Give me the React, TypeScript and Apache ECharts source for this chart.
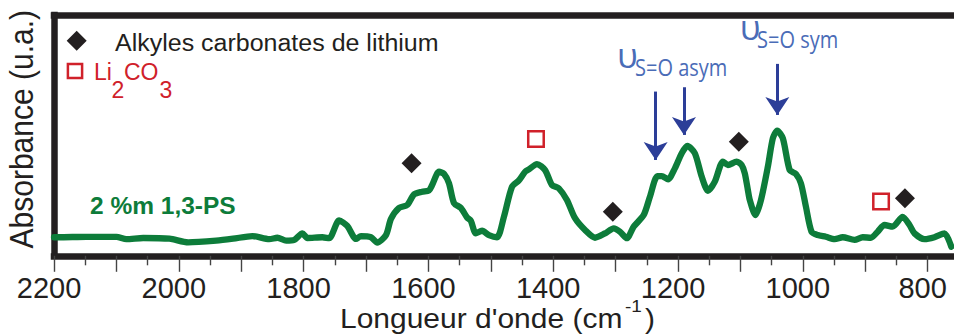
import React, { useEffect, useRef } from 'react';
import * as echarts from 'echarts';

// Wavenumbers (cm-1) and absorbance (arbitrary units, 0-100 scale)
const wavenumbers = [
  2200, 2193, 2148, 2100, 2084, 2057, 2015, 1985, 1940, 1913, 1882, 1855, 1842, 1828, 1815, 1802, 1794, 1770, 1759, 1743,
  1730, 1716, 1708, 1692, 1682, 1668, 1660, 1647, 1634, 1623, 1610, 1599, 1594, 1583, 1575, 1567, 1559, 1548, 1538, 1532,
  1524, 1514, 1503, 1490, 1479, 1466, 1455, 1445, 1439, 1426, 1413, 1402, 1391, 1378, 1365, 1349, 1333, 1317, 1303, 1293,
  1282, 1271, 1255, 1245, 1233, 1226, 1216, 1205, 1194, 1185, 1173, 1162, 1152, 1141, 1128, 1120, 1106, 1098, 1093, 1088,
  1085, 1076, 1067, 1056, 1048, 1041, 1032, 1021, 1011, 1003, 995, 986, 976, 963, 949, 936, 917, 904, 891, 880,
  869, 856, 840, 829, 821, 805, 789, 773, 762,
];
const absorbance = [
  7.7, 7.7, 7.9, 7.9, 6.9, 7.4, 7.1, 5.6, 6.3, 7.1, 8.2, 6.9, 7.5, 6.3, 6.6, 9.3, 7.4, 7.7, 7.3, 14.7,
  12.4, 7.0, 8.2, 7.7, 5.5, 8.6, 15.3, 19.9, 21.1, 25.5, 26.6, 27.2, 29.4, 34.9, 34.0, 30.1, 21.9, 19.9, 15.9, 14.6,
  9.3, 10.4, 8.6, 7.7, 16.2, 28.7, 31.3, 34.9, 35.9, 38.1, 35.6, 29.4, 28.0, 23.2, 15.6, 10.7, 7.5, 9.3, 11.4, 10.0,
  7.3, 12.1, 16.9, 24.5, 33.1, 33.1, 31.8, 36.3, 42.6, 45.6, 42.6, 32.9, 27.0, 30.8, 39.1, 37.7, 39.1, 37.7, 34.3, 27.3,
  23.2, 16.9, 23.2, 37.0, 48.8, 52.0, 48.8, 35.6, 34.0, 30.1, 20.4, 10.0, 8.6, 7.9, 6.9, 7.7, 6.6, 7.7, 7.5, 10.0,
  12.8, 12.1, 16.2, 12.8, 9.3, 6.9, 7.7, 9.3, 3.8,
];

// Peak markers
const carbonateX = [1627, 1304.5, 1102.5, 836.3];
const carbonateY = [38.4, 18.3, 47.4, 23.9];
const li2co3X = [1427.6, 874.6];
const li2co3Y = [48.5, 22.5];

// Arrows (S=O vibrations)
const arrowX = [1235.8, 1190.4, 1040.8];
const arrowTop = [68.2, 70.0, 79.7];
const arrowTip = [39.8, 50.2, 58.5];

const xTickLabels = [2200, 2000, 1800, 1600, 1400, 1200, 1000, 800];

const GREEN = '#0d7c3a';
const BLACK = '#231f20';
const RED = '#d0212a';
const BLUE_TEXT = '#4a6cb7';
const BLUE_ARROW = '#2c3e98';
const SANS = '"Liberation Sans", Arial, Helvetica, sans-serif';
const HUMANIST = '"Open Sans", "Noto Sans", sans-serif';

export default function App() {
  const ref = useRef<HTMLDivElement>(null);

  useEffect(() => {
    if (!ref.current) return;
    const chart = echarts.init(ref.current, null, { renderer: 'svg' });

    const lineData = wavenumbers.map((w, i) => [w, absorbance[i]]);
    const carbData = carbonateX.map((w, i) => [w, carbonateY[i]]);
    const liData = li2co3X.map((w, i) => [w, li2co3Y[i]]);
    const arrows = arrowX.map((w, i) => [
      { coord: [w, arrowTop[i]] },
      { coord: [w, arrowTip[i]] },
    ]);

    const frame = { show: true, lineStyle: { color: BLACK, width: 6.5, cap: 'square' } };

    const option: any = {
      animation: false,
      grid: { left: 54, top: 15, right: 0.45, bottom: 80.2, containLabel: false },
      xAxis: [
        {
          type: 'value',
          inverse: true,
          min: 700,
          max: 2200,
          interval: 100,
          position: 'bottom',
          axisLine: frame,
          axisTick: { show: true, inside: false, length: 16, lineStyle: { color: '#444', width: 1.4 } },
          minorTick: { show: true, splitNumber: 2, length: 9.5, lineStyle: { color: '#444', width: 1.4 } },
          splitLine: { show: false },
          axisLabel: {
            show: true,
            margin: 18,
            fontSize: 29,
            fontFamily: SANS,
            color: BLACK,
            padding: [0, 10, 0, 0],
            formatter: (v: number) => (xTickLabels.includes(v) ? String(v) : ''),
          },
        },
        {
          type: 'value',
          inverse: true,
          min: 700,
          max: 2200,
          position: 'top',
          axisLine: frame,
          axisTick: { show: false },
          axisLabel: { show: false },
          splitLine: { show: false },
        },
      ],
      yAxis: {
        type: 'value',
        min: 0,
        max: 100,
        axisLine: frame,
        axisTick: { show: false },
        axisLabel: { show: false },
        splitLine: { show: false },
      },
      series: [
        {
          name: '2 %m 1,3-PS',
          type: 'line',
          data: lineData,
          symbol: 'none',
          smooth: 0.25,
          lineStyle: { color: GREEN, width: 6.3, join: 'round', cap: 'round' },
          silent: true,
          z: 3,
          markLine: {
            silent: true,
            symbol: ['none', 'arrow'],
            symbolSize: 18,
            label: { show: false },
            lineStyle: { color: BLUE_ARROW, width: 3, type: 'solid' },
            emphasis: { disabled: true },
            data: arrows,
          },
        },
        {
          name: 'Alkyles carbonates de lithium',
          type: 'scatter',
          data: carbData,
          symbol: 'diamond',
          symbolSize: 20,
          itemStyle: { color: BLACK, opacity: 1 },
          silent: true,
          z: 4,
        },
        {
          name: 'Li2CO3',
          type: 'scatter',
          data: liData,
          symbol: 'rect',
          symbolSize: 15.5,
          itemStyle: { color: '#ffffff', borderColor: RED, borderWidth: 2.5, opacity: 1 },
          silent: true,
          z: 4,
        },
      ],
      graphic: [
        // Legend
        {
          type: 'polygon',
          shape: { points: [[76.7, 30.7], [86.7, 40.7], [76.7, 50.7], [66.7, 40.7]] },
          style: { fill: BLACK },
        },
        {
          type: 'text', x: 115, y: 42.5, scaleY: 0.93,
          style: { text: 'Alkyles carbonates de lithium', fill: BLACK, fontSize: 25, fontFamily: SANS, align: 'left', verticalAlign: 'middle' },
        },
        {
          type: 'rect',
          shape: { x: 67.9, y: 63.9, width: 14.2, height: 14.2 },
          style: { fill: '#ffffff', stroke: RED, lineWidth: 2.5 },
        },
        { type: 'text', x: 94, y: 72, style: { text: 'Li', fill: RED, fontSize: 23, fontFamily: SANS, align: 'left', verticalAlign: 'middle' } },
        { type: 'text', x: 111.5, y: 90.3, style: { text: '2', fill: RED, fontSize: 23, fontFamily: SANS, align: 'left', verticalAlign: 'middle' } },
        { type: 'text', x: 124, y: 72, style: { text: 'CO', fill: RED, fontSize: 23, fontFamily: SANS, align: 'left', verticalAlign: 'middle' } },
        { type: 'text', x: 159.5, y: 90.3, style: { text: '3', fill: RED, fontSize: 23, fontFamily: SANS, align: 'left', verticalAlign: 'middle' } },
        // Sample label
        {
          type: 'text', x: 90, y: 205.5,
          style: { text: '2 %m 1,3-PS', fill: GREEN, fontSize: 24.5, fontWeight: 'bold', fontFamily: SANS, align: 'left', verticalAlign: 'middle' },
        },
        // Vibration labels
        { type: 'text', x: 617, y: 55, style: { text: 'υ', fill: BLUE_TEXT, fontSize: 34, fontFamily: HUMANIST, align: 'left', verticalAlign: 'middle' } },
        { type: 'text', x: 635, y: 67.1, scaleY: 1.15, style: { text: 'S=O asym', fill: BLUE_TEXT, fontSize: 20, fontFamily: HUMANIST, align: 'left', verticalAlign: 'middle' } },
        { type: 'text', x: 739.7, y: 26.6, style: { text: 'υ', fill: BLUE_TEXT, fontSize: 34, fontFamily: HUMANIST, align: 'left', verticalAlign: 'middle' } },
        { type: 'text', x: 757, y: 39.4, scaleY: 1.15, style: { text: 'S=O sym', fill: BLUE_TEXT, fontSize: 20, fontFamily: HUMANIST, align: 'left', verticalAlign: 'middle' } },
        // Axis titles
        {
          type: 'text', x: 21.3, y: 129.2, rotation: Math.PI / 2, scaleX: 0.91,
          style: { text: 'Absorbance (u.a.)', fill: BLACK, fontSize: 33, fontFamily: SANS, align: 'center', verticalAlign: 'middle' },
        },
        { type: 'text', x: 340, y: 318.1, scaleY: 0.9, style: { text: "Longueur d'onde (cm", fill: BLACK, fontSize: 30, fontFamily: SANS, align: 'left', verticalAlign: 'middle' } },
        { type: 'text', x: 625, y: 305.9, scaleY: 0.9, style: { text: '-1', fill: BLACK, fontSize: 19, fontFamily: SANS, align: 'left', verticalAlign: 'middle' } },
        { type: 'text', x: 645, y: 318.1, scaleY: 0.9, style: { text: ')', fill: BLACK, fontSize: 30, fontFamily: SANS, align: 'left', verticalAlign: 'middle' } },
      ],
    };

    chart.setOption(option);
    return () => chart.dispose();
  }, []);

  return (
    <div style={{ position: 'absolute', left: 0, top: 0, width: 954, height: 336, overflow: 'hidden', background: '#ffffff' }}>
      <div ref={ref} style={{ width: 993, height: 336 }} />
    </div>
  );
}
